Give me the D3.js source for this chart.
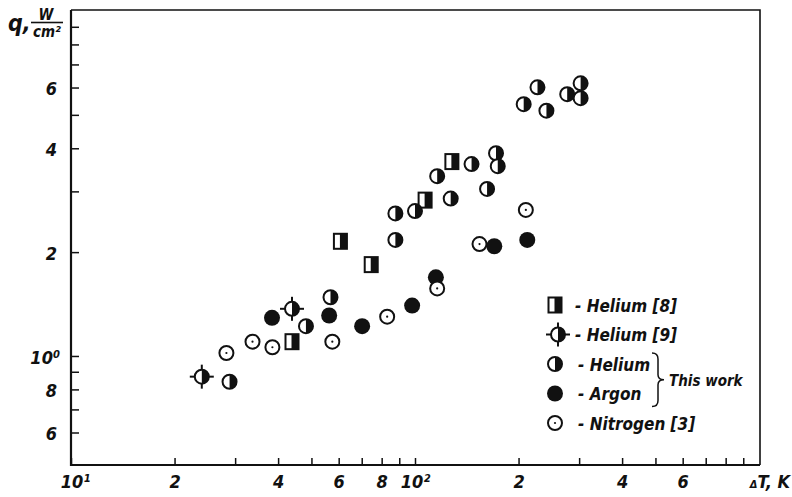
<!DOCTYPE html>
<html>
<head>
<meta charset="utf-8">
<script src="https://cdn.jsdelivr.net/npm/d3@7"></script>
<style>
    body { margin: 0; background: #fff; }
    text {
        font-family: "DejaVu Sans Condensed", "DejaVu Sans", sans-serif;
        font-stretch: condensed;
        font-style: oblique;
        font-weight: bold;
        fill: #111;
    }
</style>
</head>
<body>
<svg id="vis" width="792" height="497"></svg>
<script>
// data: [deltaT (K), q (W/cm2)]
var helium8 = [[43.9, 1.10], [60.7, 2.15], [74.6, 1.84], [107, 2.83], [128, 3.66]];
var helium9 = [[24.0, 0.871], [43.9, 1.37]];
var heliumWork = [
    [28.9, 0.842], [48.2, 1.22], [56.8, 1.48], [87.7, 2.59], [87.7, 2.17],
    [100, 2.63], [116, 3.32], [127, 2.86], [146, 3.60], [172, 3.87],
    [174, 3.55], [162, 3.05], [227, 6.01], [207, 5.37], [241, 5.14],
    [277, 5.74], [303, 6.17], [303, 5.59]
];
var argon = [[38.4, 1.29], [56.3, 1.31], [70.2, 1.22], [98.1, 1.40], [115, 1.69], [170, 2.08], [212, 2.17]];
var nitrogen = [[28.3, 1.02], [33.7, 1.10], [38.5, 1.06], [57.5, 1.10], [83.0, 1.30], [116, 1.57], [154, 2.11], [210, 2.65]];

var xTicks = [20, 30, 40, 50, 60, 70, 80, 90, 100, 200, 300, 400, 500, 600, 700, 800, 900];
var xTickLabels = {10: "10\u00b9", 20: "2", 40: "4", 60: "6", 80: "8", 100: "10\u00b2", 200: "2", 400: "4", 600: "6"};
var yTicks = [0.6, 0.7, 0.8, 0.9, 1, 2, 3, 4, 5, 6, 7, 8, 9];
var yTickLabels = {0.6: "6", 0.8: "8", 1: "10\u2070", 2: "2", 4: "4", 6: "6"};

var legendItems = [
    {type: "square", label: "- Helium [8]"},
    {type: "cross", label: "- Helium [9]"},
    {type: "half", label: "- Helium"},
    {type: "full", label: "- Argon"},
    {type: "dot", label: "- Nitrogen [3]"}
];

var plot = {left: 71, right: 760, top: 10, bottom: 465};

var svg = d3.select("svg#vis");

var x = d3.scaleLog().domain([10, 1000]).range([plot.left, 759]);
var y = d3.scaleLog().domain([0.483, 10]).range([plot.bottom, 11]);

// frame
svg.append("path")
    .attr("d", "M" + plot.left + "," + plot.top + "H" + plot.right + "V" + plot.bottom)
    .attr("fill", "none")
    .attr("stroke", "#111")
    .attr("stroke-width", 1.6);
svg.append("path")
    .attr("d", "M" + plot.left + "," + plot.top + "V" + plot.bottom + "H" + plot.right)
    .attr("fill", "none")
    .attr("stroke", "#111")
    .attr("stroke-width", 2.2);

var xAxis = d3.axisBottom(x)
    .tickValues([10].concat(xTicks))
    .tickSize(-7)
    .tickSizeOuter(0)
    .tickPadding(10)
    .tickFormat(function(d) { return xTickLabels[d] || ""; });

var xg = svg.append("g")
    .attr("transform", "translate(0," + plot.bottom + ")")
    .call(xAxis);
xg.select(".domain").remove();
xg.selectAll("line").attr("stroke", "#111").attr("stroke-width", 1.5);
xg.selectAll("text").attr("font-size", 18).attr("fill", "#111");
xg.selectAll(".tick").filter(function(d) { return d == 10; }).select("text").attr("dx", 4);

var yAxis = d3.axisLeft(y)
    .tickValues(yTicks)
    .tickSize(-8)
    .tickSizeOuter(0)
    .tickPadding(14)
    .tickFormat(function(d) { return yTickLabels[d] || ""; });

var yg = svg.append("g")
    .attr("transform", "translate(" + plot.left + ",0)")
    .call(yAxis);
yg.select(".domain").remove();
yg.selectAll("line").attr("stroke", "#111").attr("stroke-width", 1.5);
yg.selectAll("text").attr("font-size", 18).attr("fill", "#111").attr("dy", "0.4em");
yg.selectAll(".tick").filter(function(d) { return d == 1; }).select("text").attr("dx", 3);

// axis titles
svg.append("text").attr("x", 8).attr("y", 31).attr("font-size", 23).text("q,");
svg.append("text").attr("x", 46).attr("y", 20).attr("font-size", 15)
    .attr("text-anchor", "middle").text("W");
svg.append("line").attr("x1", 31).attr("x2", 63).attr("y1", 22.5).attr("y2", 22.5)
    .attr("stroke", "#111").attr("stroke-width", 1.6);
svg.append("text").attr("x", 47).attr("y", 37).attr("font-size", 15)
    .attr("text-anchor", "middle").text("cm\u00b2");

var dt = svg.append("text").attr("x", 790).attr("y", 488)
    .attr("font-size", 18).attr("text-anchor", "end");
dt.append("tspan").attr("font-size", 11).text("\u0394");
dt.append("tspan").text("T, K");

function drawMarker(g, type, cx, cy) {
    var r = 7;
    if (type == "square") {
        var w = 13, h = 15;
        g.append("rect")
            .attr("x", cx - w / 2).attr("y", cy - h / 2)
            .attr("width", w).attr("height", h)
            .attr("fill", "#fff").attr("stroke", "#111").attr("stroke-width", 2);
        g.append("rect")
            .attr("x", cx - 0.5).attr("y", cy - h / 2)
            .attr("width", w / 2 + 0.5).attr("height", h)
            .attr("fill", "#111");
        return;
    }
    if (type == "full") {
        g.append("circle").attr("cx", cx).attr("cy", cy).attr("r", r + 1)
            .attr("fill", "#111");
        return;
    }
    if (type == "cross") {
        g.append("line").attr("x1", cx - 12).attr("x2", cx + 12)
            .attr("y1", cy).attr("y2", cy)
            .attr("stroke", "#111").attr("stroke-width", 2);
        g.append("line").attr("x1", cx).attr("x2", cx)
            .attr("y1", cy - 12).attr("y2", cy + 12)
            .attr("stroke", "#111").attr("stroke-width", 2);
    }
    g.append("circle").attr("cx", cx).attr("cy", cy).attr("r", r)
        .attr("fill", "#fff").attr("stroke", "#111").attr("stroke-width", 2);
    if (type == "dot") {
        g.append("circle").attr("cx", cx).attr("cy", cy).attr("r", 1.1)
            .attr("fill", "#111");
        return;
    }
    // right half filled
    g.append("path")
        .attr("d", "M" + cx + "," + (cy - r) + "A" + r + "," + r + " 0 0 1 " + cx + "," + (cy + r) + "Z")
        .attr("fill", "#111");
}

var series = [
    {data: helium8, type: "square"},
    {data: helium9, type: "cross"},
    {data: heliumWork, type: "half"},
    {data: argon, type: "full"},
    {data: nitrogen, type: "dot"}
];

var points = svg.append("g").attr("id", "points");
series.forEach(function(s) {
    s.data.forEach(function(d) {
        drawMarker(points.append("g"), s.type, x(d[0]), y(d[1]));
    });
});

// legend
var legend = svg.append("g").attr("id", "legend");
var legendX = 555, legendY = 305, legendStep = 29.5;
legendItems.forEach(function(item, i) {
    var cy = legendY + i * legendStep;
    drawMarker(legend.append("g"), item.type, item.type == "cross" ? legendX + 3 : legendX, cy);
    legend.append("text")
        .attr("x", i < 2 ? 575 : 578)
        .attr("y", cy + 6.5)
        .attr("font-size", 17)
        .text(item.label);
});

// brace grouping "This work"
var by0 = legendY + 2 * legendStep - 11, by1 = legendY + 3 * legendStep + 13, bm = (by0 + by1) / 2;
legend.append("path")
    .attr("d", "M652," + by0 + " Q658," + by0 + " 658," + (by0 + 6) +
        " V" + (bm - 5) + " Q658," + bm + " 664," + bm +
        " Q658," + bm + " 658," + (bm + 5) +
        " V" + (by1 - 6) + " Q658," + by1 + " 652," + by1)
    .attr("fill", "none")
    .attr("stroke", "#111")
    .attr("stroke-width", 1.5);
legend.append("text")
    .attr("x", 669)
    .attr("y", bm + 6)
    .attr("font-size", 15)
    .text("This work");
</script>
</body>
</html>
